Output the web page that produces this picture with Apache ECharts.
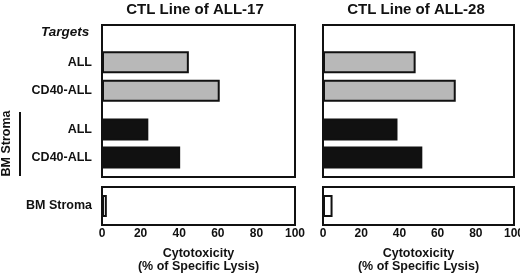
<!DOCTYPE html>
<html>
<head>
<meta charset="utf-8">
<script src="https://cdn.jsdelivr.net/npm/echarts@6/dist/echarts.min.js"></script>
<style>
  html, body { margin: 0; padding: 0; background: #fff; }
  #chart { width: 520px; height: 276px; }
</style>
</head>
<body>
<div id="chart"></div>
<script>
// data
const targetLabels = ['ALL', 'CD40-ALL'];
const stromaLabels = ['BM Stroma'];
const panelTitles = ['CTL Line of ALL-17', 'CTL Line of ALL-28'];
const leukemia17 = [45, 61];
const stromaCo17 = [24, 40.5];
const stromaAlone17 = [2.5];
const leukemia28 = [48.5, 69.5];
const stromaCo28 = [39, 52];
const stromaAlone28 = [5];
const axisMin = 0;
const axisMax = 100;
const axisStep = 20;

const FONT = '"Liberation Sans", Arial, sans-serif';
const INK = '#111';
const GRAY = '#b8b8b8';

const panels = [
  { left: 102, width: 193, title: panelTitles[0], titleX: 195,
    gray: leukemia17, black: stromaCo17, stroma: stromaAlone17, labels: true },
  { left: 323, width: 191, title: panelTitles[1], titleX: 416,
    gray: leukemia28, black: stromaCo28, stroma: stromaAlone28, labels: false },
];

const grid = [], xAxis = [], yAxis = [], series = [], title = [];

const hiddenValueX = (gi) => ({ type: 'value', gridIndex: gi, min: axisMin, max: axisMax, show: false });
const catY = (gi, data, showLabels, extra) => Object.assign({
  type: 'category', gridIndex: gi, data: data, inverse: true,
  axisLine: { show: false }, axisTick: { show: false }, splitLine: { show: false },
  axisLabel: { show: showLabels, margin: 10, color: INK, fontSize: 12.5, fontWeight: 'bold', fontFamily: FONT },
}, extra || {});
const barSeries = (gi, values, color) => ({
  type: 'bar', xAxisIndex: gi, yAxisIndex: gi, data: values, barWidth: 22,
  itemStyle: { color: color, borderColor: INK, borderWidth: 2 },
  silent: true, animation: false,
});

panels.forEach((p) => {
  const base = grid.length;
  const box = { left: p.left, width: p.width, containLabel: false, outerBoundsMode: 'none' };

  title.push({
    text: p.title, left: p.titleX, top: 2, textAlign: 'center', padding: 0,
    textStyle: { fontSize: 15, fontWeight: 'bold', color: INK, fontFamily: FONT },
  });

  // outer frame of the targets box
  grid.push(Object.assign({}, box, { top: 25, height: 152, show: true, borderColor: INK, borderWidth: 2, backgroundColor: 'transparent' }));
  xAxis.push(hiddenValueX(base));
  yAxis.push({ type: 'value', gridIndex: base, show: false });

  // leukemia targets (gray)
  grid.push(Object.assign({}, box, { top: 48, height: 57 }));
  xAxis.push(hiddenValueX(base + 1));
  yAxis.push(catY(base + 1, targetLabels, p.labels));
  series.push(barSeries(base + 1, p.gray, GRAY));

  // co-cultured on BM stroma (black)
  grid.push(Object.assign({}, box, { top: 115.5, height: 56 }));
  xAxis.push(hiddenValueX(base + 2));
  yAxis.push(catY(base + 2, targetLabels, p.labels, p.labels ? {
    name: 'BM Stroma', nameLocation: 'middle', nameRotate: 90, nameGap: 89,
    nameTextStyle: { color: INK, fontSize: 12.5, fontWeight: 'bold', fontFamily: FONT },
  } : {}));
  series.push(barSeries(base + 2, p.black, INK));

  // BM stroma alone
  grid.push(Object.assign({}, box, { top: 187, height: 38, show: true, borderColor: INK, borderWidth: 2, backgroundColor: 'transparent' }));
  xAxis.push({
    type: 'value', gridIndex: base + 3, min: axisMin, max: axisMax, interval: axisStep,
    axisLine: { show: false }, axisTick: { show: false }, splitLine: { show: false },
    axisLabel: { margin: 3, color: INK, fontSize: 12, fontWeight: 'bold', fontFamily: FONT },
    name: 'Cytotoxicity\n(% of Specific Lysis)', nameLocation: 'middle', nameGap: 22,
    nameTextStyle: { color: INK, fontSize: 12.5, fontWeight: 'bold', lineHeight: 13, fontFamily: FONT },
  });
  yAxis.push(catY(base + 3, stromaLabels, p.labels));
  series.push(barSeries(base + 3, p.stroma, '#fff'));
});

const chart = echarts.init(document.getElementById('chart'), null, { renderer: 'canvas' });
chart.setOption({
  animation: false,
  backgroundColor: '#fff',
  textStyle: { fontFamily: FONT },
  title: title,
  grid: grid,
  xAxis: xAxis,
  yAxis: yAxis,
  series: series,
  graphic: [
    {
      type: 'text', left: 41, top: 25,
      style: { text: 'Targets', fill: INK, font: 'italic bold 13.5px ' + FONT },
    },
    {
      type: 'line', shape: { x1: 20, y1: 112, x2: 20, y2: 176 },
      style: { stroke: INK, lineWidth: 2 },
    },
  ],
});
window.addEventListener('resize', () => chart.resize());
</script>
</body>
</html>
